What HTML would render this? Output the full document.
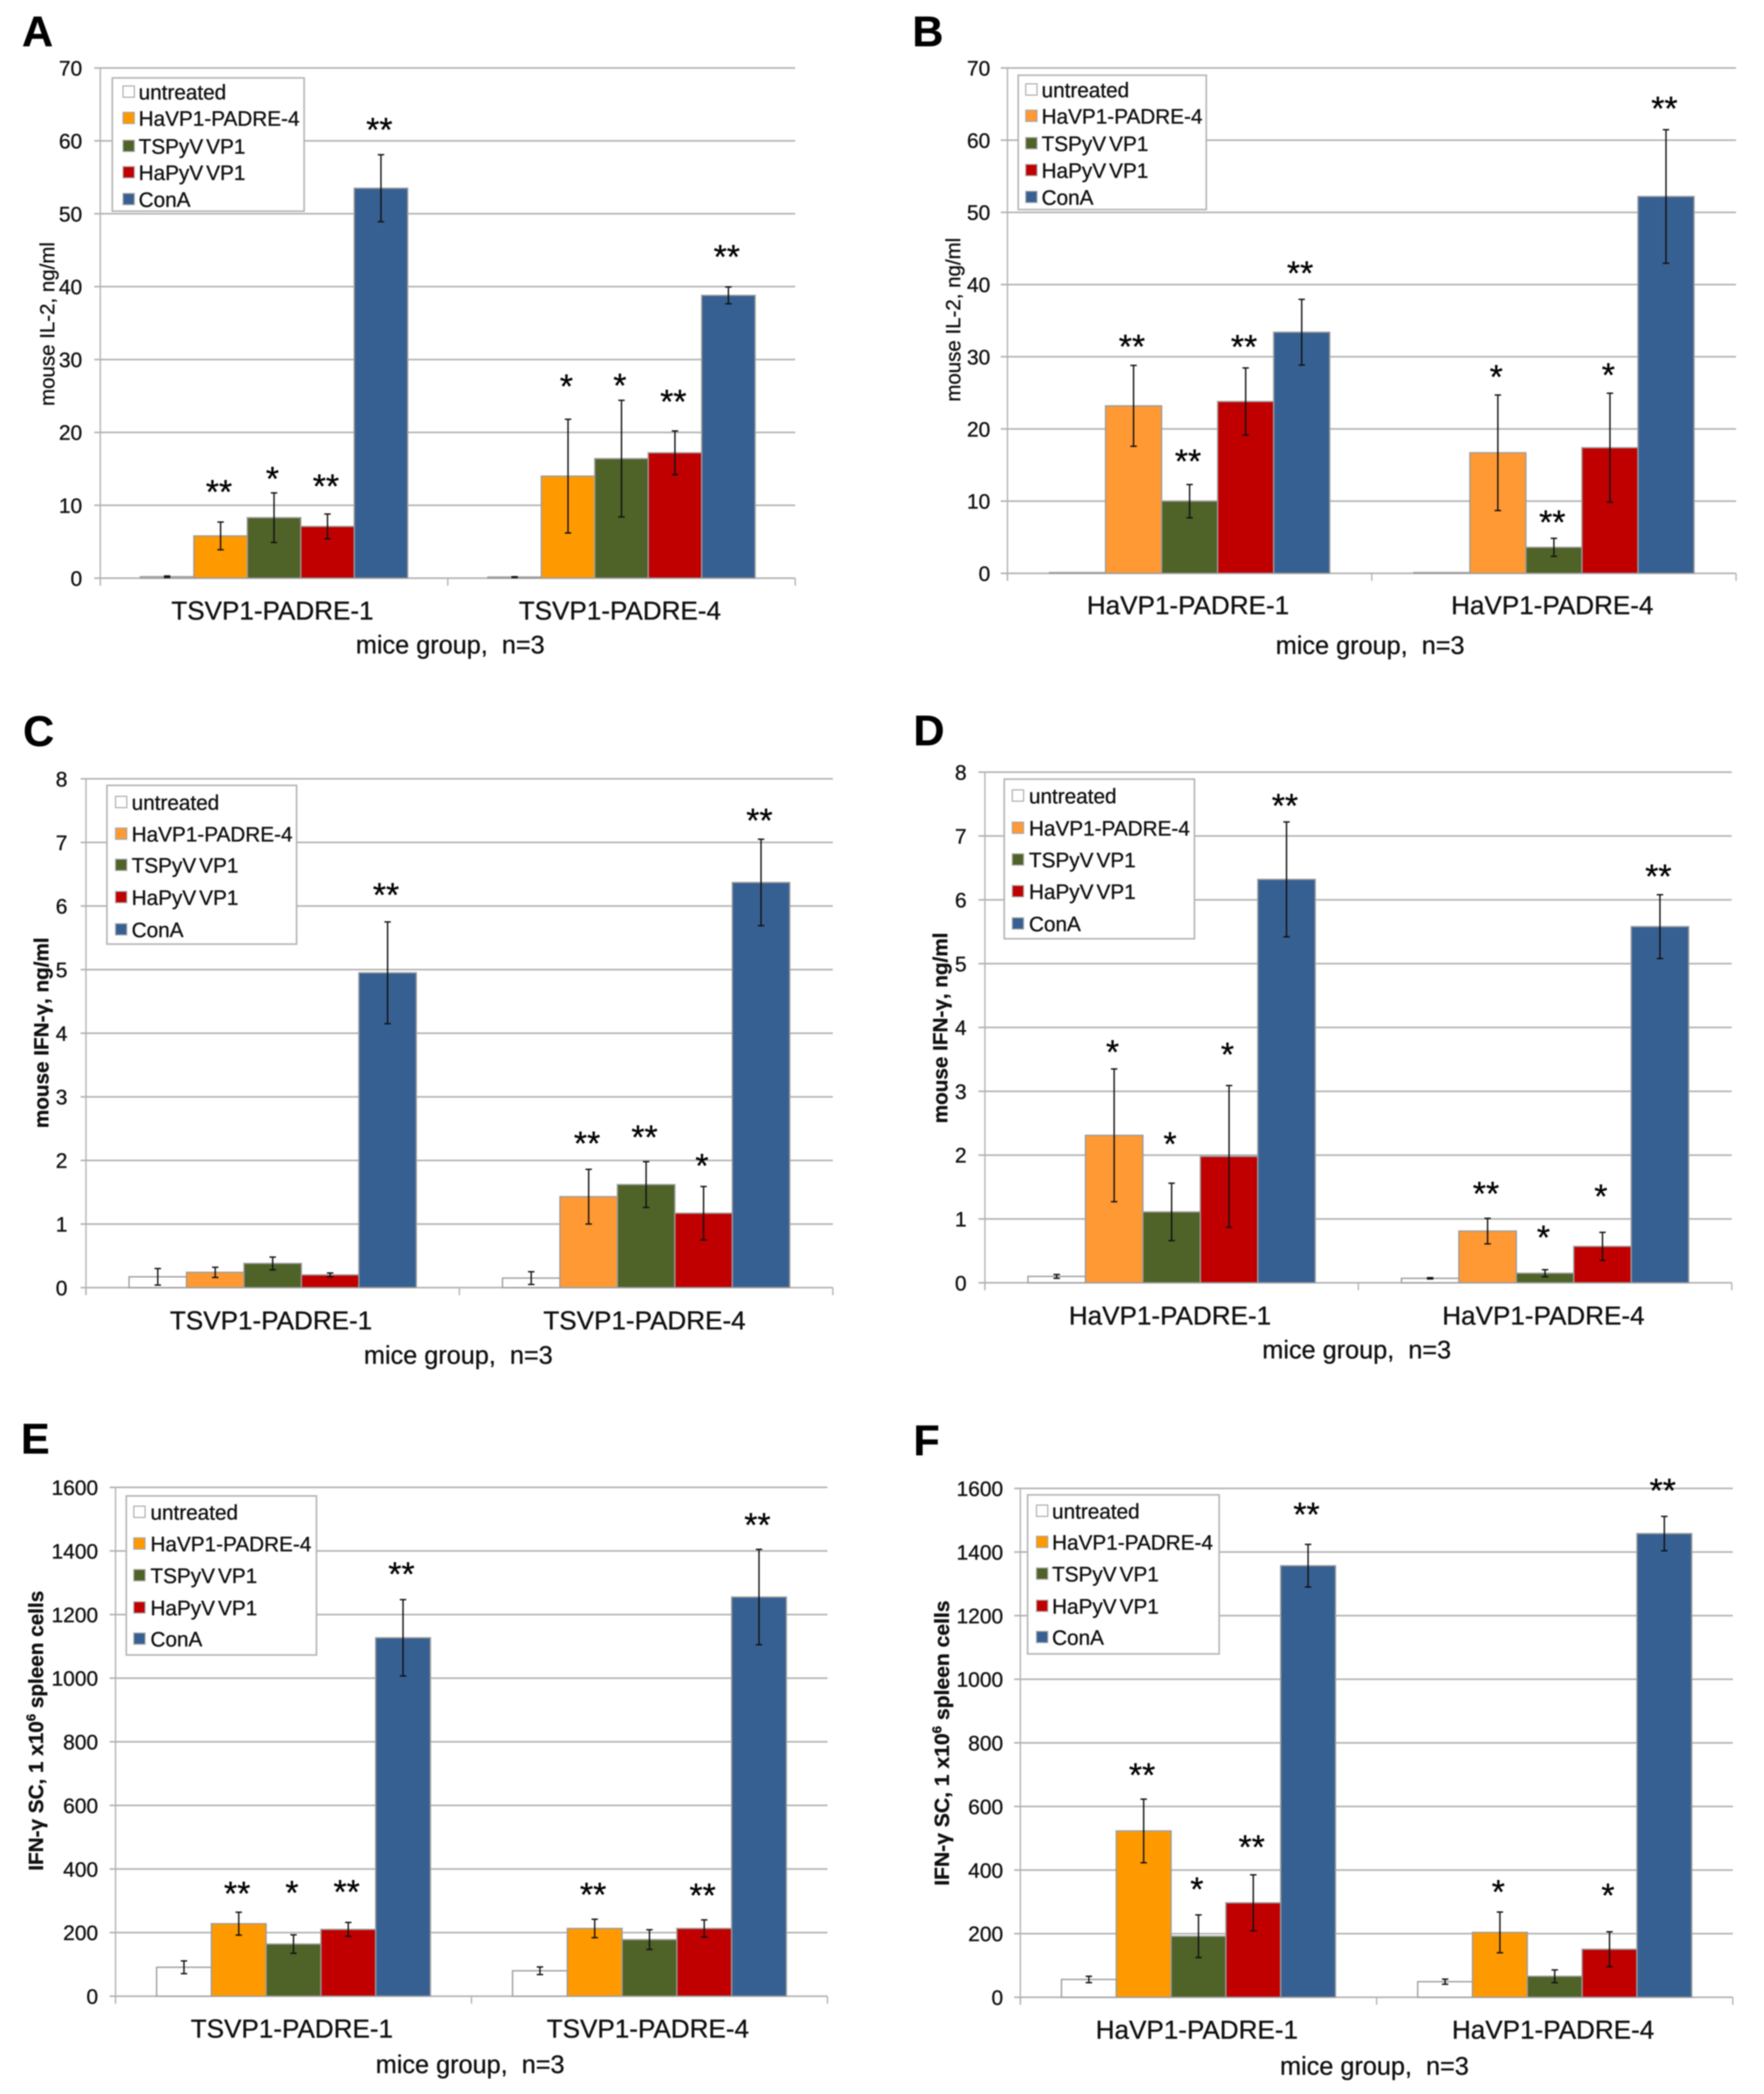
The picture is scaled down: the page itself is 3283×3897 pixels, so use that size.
<!DOCTYPE html>
<html lang="en">
<head>
<meta charset="utf-8">
<title>Cytokine response bar charts</title>
<style>
html,body{margin:0;padding:0;background:#fff}
svg{display:block;font-family:"Liberation Sans",Arial,sans-serif;filter:blur(1px)}
svg text{stroke:#111;stroke-width:.6px}
</style>
</head>
<body>
<svg id="figure" xmlns="http://www.w3.org/2000/svg" width="3283" height="3897" viewBox="0 0 3283 3897"></svg>
<script>
const seriesLabels = ['untreated', 'HaVP1-PADRE-4', 'TSPyV VP1', 'HaPyV VP1', 'ConA'];
const tsvCategories = ['TSVP1-PADRE-1', 'TSVP1-PADRE-4'];
const havCategories = ['HaVP1-PADRE-1', 'HaVP1-PADRE-4'];
const il2Ticks = [0, 10, 20, 30, 40, 50, 60, 70];
const ifnTicks = [0, 1, 2, 3, 4, 5, 6, 7, 8];
const scTicks = [0, 200, 400, 600, 800, 1000, 1200, 1400, 1600];

const aValues = [[0.2, 5.8, 8.3, 7.1, 53.5], [0.15, 14, 16.4, 17.2, 38.8]];
const aErrors = [[0.1, 1.9, 3.4, 1.7, 4.6], [0.05, 7.8, 8, 3, 1.15]];
const aStars = [['', '**', '*', '**', '**'], ['', '*', '*', '**', '**']];
const aStarClearance = [[0, 4.6, 2.4, 4.3, 3.9], [0, 5, 2.5, 4.5, 4.6]];

const bValues = [[0.1, 23.2, 10, 23.8, 33.4], [0.1, 16.7, 3.6, 17.4, 52.2]];
const bErrors = [[0, 5.6, 2.3, 4.65, 4.55], [0, 8, 1.25, 7.55, 9.25]];
const bStars = [['', '**', '**', '**', '**'], ['', '*', '**', '*', '**']];
const bStarClearance = [[0, 3.1, 3.7, 3.4, 4.1], [0, 3, 2.7, 3, 3.4]];

const cValues = [[0.17, 0.24, 0.38, 0.2, 4.95], [0.15, 1.43, 1.62, 1.17, 6.37]];
const cErrors = [[0.13, 0.08, 0.1, 0.03, 0.8], [0.1, 0.43, 0.36, 0.42, 0.68]];
const cStars = [['', '', '', '', '**'], ['', '**', '**', '*', '**']];
const cStarClearance = [[0, 0, 0, 0, 0.48], [0, 0.46, 0.44, 0.38, 0.35]];

const dValues = [[0.1, 2.31, 1.11, 1.98, 6.32], [0.07, 0.81, 0.15, 0.57, 5.58]];
const dErrors = [[0.03, 1.04, 0.45, 1.11, 0.9], [0.01, 0.2, 0.055, 0.22, 0.5]];
const dStars = [['', '*', '*', '*', '**'], ['', '**', '*', '*', '**']];
const dStarClearance = [[0, 0.32, 0.67, 0.54, 0.31], [0, 0.44, 0.56, 0.62, 0.34]];

const eValues = [[91, 228, 164, 210, 1127], [80, 213, 178, 213, 1255]];
const eErrors = [[20, 36, 29, 22, 120], [12, 29, 31, 27, 150]];
const eStars = [['', '**', '*', '**', '**'], ['', '**', '', '**', '**']];
const eStarClearance = [[0, 70, 143, 107, 91], [0, 88, 0, 88, 88]];

const fValues = [[56, 523, 192, 297, 1357], [49, 204, 66, 151, 1458]];
const fErrors = [[10, 100, 67, 88, 67], [8, 64, 20, 55, 54]];
const fStars = [['', '**', '*', '**', '**'], ['', '*', '', '*', '**']];
const fStarClearance = [[0, 87, 92, 98, 105], [0, 74, 0, 125, 92]];

const NS = 'http://www.w3.org/2000/svg';
const root = document.getElementById('figure');

function make(parent, tag, attrs, text) {
  const el = document.createElementNS(NS, tag);
  for (const k in attrs) el.setAttribute(k, attrs[k]);
  if (text !== undefined) el.textContent = text;
  parent.appendChild(el);
  return el;
}

const panels = [
  { id: 'a', letter: 'A', lx: 41, ly: 86, x0: 186.7, x1: 1480, yTop: 126.5, yBase: 1076, tickStart: 175.5, labelX: 153,
    ticks: il2Ticks, cats: tsvCategories, values: aValues, errors: aErrors, stars: aStars, clear: aStarClearance,
    orange: '#ff9900', catY: 1153, xTitleX: 838, xTitleY: 1216,
    yTitle: 'mouse IL-2, ng/ml', yTitleBold: false, ytx: 87, yty: 603, ytl: 305,
    box: [209, 145, 357, 248], swX: 229, txtX: 258, rows: [171, 220, 272, 321, 371] },
  { id: 'b', letter: 'B', lx: 1698, ly: 86, x0: 1875, x1: 3231, yTop: 126.5, yBase: 1067, tickStart: 1862.5, labelX: 1843,
    ticks: il2Ticks, cats: havCategories, values: bValues, errors: bErrors, stars: bStars, clear: bStarClearance,
    orange: '#ff9933', catY: 1143, xTitleX: 2550, xTitleY: 1217,
    yTitle: 'mouse IL-2, ng/ml', yTitleBold: false, ytx: 1773, yty: 595, ytl: 305,
    box: [1895, 140, 350, 250], swX: 1909, txtX: 1938.5, rows: [167, 216, 267, 317, 367] },
  { id: 'c', letter: 'C', lx: 43, ly: 1388, x0: 160, x1: 1550, yTop: 1449.4, yBase: 2396.3, tickStart: 150, labelX: 125.5,
    ticks: ifnTicks, cats: tsvCategories, values: cValues, errors: cErrors, stars: cStars, clear: cStarClearance,
    orange: '#ff9933', catY: 2474, xTitleX: 853, xTitleY: 2538,
    yTitle: 'mouse IFN-\u03b3, ng/ml', yTitleBold: true, ytx: 76, yty: 1922, ytl: 355,
    box: [199, 1461.6, 353, 295.4], swX: 215, txtX: 245, rows: [1493, 1552, 1610, 1670, 1730] },
  { id: 'd', letter: 'D', lx: 1700, ly: 1387, x0: 1833, x1: 3223, yTop: 1437, yBase: 2387.3, tickStart: 1821, labelX: 1799,
    ticks: ifnTicks, cats: havCategories, values: dValues, errors: dErrors, stars: dStars, clear: dStarClearance,
    orange: '#ff9933', catY: 2465, xTitleX: 2525, xTitleY: 2528,
    yTitle: 'mouse IFN-\u03b3, ng/ml', yTitleBold: true, ytx: 1749, yty: 1913, ytl: 355,
    box: [1869, 1450, 354, 297], swX: 1884, txtX: 1915, rows: [1481, 1541, 1600, 1659, 1719] },
  { id: 'e', letter: 'E', lx: 39, ly: 2705, x0: 215, x1: 1540, yTop: 2768, yBase: 3715, tickStart: 204, labelX: 182.6,
    ticks: scTicks, cats: tsvCategories, values: eValues, errors: eErrors, stars: eStars, clear: eStarClearance,
    orange: '#ff9900', catY: 3792, xTitleX: 875, xTitleY: 3858,
    yTitle: 'IFN-\u03b3 SC, 1 x10', yTitleSup: '6', yTitleEnd: ' spleen cells', yTitleBold: true, ytx: 66, yty: 3221, ytl: 521,
    box: [235, 2784, 354, 296], swX: 249, txtX: 280, rows: [2814, 2873, 2932, 2992, 3050] },
  { id: 'f', letter: 'F', lx: 1700, ly: 2708, x0: 1899, x1: 3225, yTop: 2770, yBase: 3717, tickStart: 1887.5, labelX: 1867,
    ticks: scTicks, cats: havCategories, values: fValues, errors: fErrors, stars: fStars, clear: fStarClearance,
    orange: '#ff9900', catY: 3794, xTitleX: 2558, xTitleY: 3861,
    yTitle: 'IFN-\u03b3 SC, 1 x10', yTitleSup: '6', yTitleEnd: ' spleen cells', yTitleBold: true, ytx: 1752, yty: 3244, ytl: 531,
    box: [1912.5, 2782, 356.5, 296], swX: 1929, txtX: 1958, rows: [2812, 2870, 2929, 2989, 3047] }
];

const GRID = '#b2b2b2';
const BORDER = '#9c9c9c';
const seriesColors = p => ['#ffffff', p.orange, '#4f6228', '#c00000', '#376092'];
const seriesSlugs = ['untreated', 'havp1-padre-4', 'tspyv-vp1', 'hapyv-vp1', 'cona'];

panels.forEach(p => {
  const g = make(root, 'g', {});
  
  

  const tickMax = p.ticks[p.ticks.length - 1];
  const yScale = v => p.yBase - (v / tickMax) * (p.yBase - p.yTop);
  const catW = (p.x1 - p.x0) / p.cats.length;
  const barW = catW / 6.5;
  const xScale = (c, s) => p.x0 + c * catW + barW * (0.75 + s);
  const colors = seriesColors(p);

  const letter = make(g, 'text', { x: p.lx, y: p.ly, 'font-size': 80, 'font-weight': 700, fill: '#000' }, p.letter);
  
  

  p.ticks.forEach(t => {
    const y = yScale(t);
    const line = make(g, 'line', { x1: p.tickStart, x2: p.x1, y1: y, y2: y, stroke: GRID, 'stroke-width': 3 });
    
    
    const label = make(g, 'text', { x: p.labelX, y: y + 14, 'font-size': 39, 'text-anchor': 'end', fill: '#111' }, String(t));
    
    
  });

  const yAxis = make(g, 'line', { x1: p.x0, x2: p.x0, y1: p.yTop, y2: p.yBase + 14, stroke: GRID, 'stroke-width': 2.5 });
  
  

  for (let c = 0; c <= p.cats.length; c++) {
    const tx = p.x0 + c * catW;
    const tick = make(g, 'line', { x1: tx, x2: tx, y1: p.yBase, y2: p.yBase + 14, stroke: GRID, 'stroke-width': 2.5 });
    
    
  }

  const legend = make(g, 'g', {});
  
  
  const box = make(legend, 'rect', { x: p.box[0], y: p.box[1], width: p.box[2], height: p.box[3], fill: '#fff', stroke: '#b5b5b5', 'stroke-width': 3 });
  
  
  seriesLabels.forEach((name, s) => {
    const swatch = make(legend, 'rect', { x: p.swX, y: p.rows[s] - 11, width: 21, height: 21, fill: colors[s], stroke: '#a8a8a8', 'stroke-width': 2 });
    
    
    const entry = make(legend, 'text', { x: p.txtX, y: p.rows[s] + 14, 'font-size': 38.6, 'word-spacing': -5, fill: '#111' }, name);
    
    
  });

  p.cats.forEach((cat, c) => {
    const label = make(g, 'text', { x: p.x0 + (c + 0.5) * catW - 3, y: p.catY, 'font-size': 48.5, 'text-anchor': 'middle', fill: '#111' }, cat);
    
    

    p.values[c].forEach((v, s) => {
      const x = xScale(c, s);
      const bar = make(g, 'rect', { x: x, y: yScale(v), width: barW, height: Math.max(0, p.yBase - yScale(v)), fill: colors[s], stroke: BORDER, 'stroke-width': 2.5 });
      
      
    });

    p.values[c].forEach((v, s) => {
      const x = xScale(c, s) + barW / 2;
      const err = p.errors[c][s];
      const hi = v + err;
      if (err > 0) {
        const lo = Math.max(0, v - err);
        const stem = make(g, 'line', { x1: x, x2: x, y1: yScale(hi), y2: yScale(lo), stroke: '#111', 'stroke-width': 2.6 });
        
        
        [hi, lo].forEach(e => {
          const cap = make(g, 'line', { x1: x - 6, x2: x + 6, y1: yScale(e), y2: yScale(e), stroke: '#111', 'stroke-width': 2.6 });
          
          
        });
      }
      const mark = p.stars[c][s];
      if (mark) {
        const starY = yScale(hi + p.clear[c][s]);
        const star = make(g, 'text', { x: x - 3, y: starY + 28, 'font-size': 63, 'text-anchor': 'middle', fill: '#000' }, mark);
        
        
      }
    });
  });

  const xTitle = make(g, 'text', { x: p.xTitleX, y: p.xTitleY, 'font-size': 47, 'text-anchor': 'middle', fill: '#111' }, 'mice group,\u00a0 n=3');
  
  

  const yTitle = make(g, 'text', {
    x: p.ytx + 14, y: p.yty, 'font-size': 38, 'text-anchor': 'middle', fill: '#111',
    'font-weight': p.yTitleBold ? 700 : 400,
    textLength: p.ytl, lengthAdjust: 'spacingAndGlyphs',
    transform: 'rotate(-90 ' + (p.ytx + 14) + ' ' + p.yty + ')'
  });
  
  
  make(yTitle, 'tspan', {}, p.yTitle);
  if (p.yTitleSup) {
    make(yTitle, 'tspan', { dy: -14, 'font-size': 24 }, p.yTitleSup);
    make(yTitle, 'tspan', { dy: 14 }, p.yTitleEnd);
  }
});
</script>
</body>
</html>
